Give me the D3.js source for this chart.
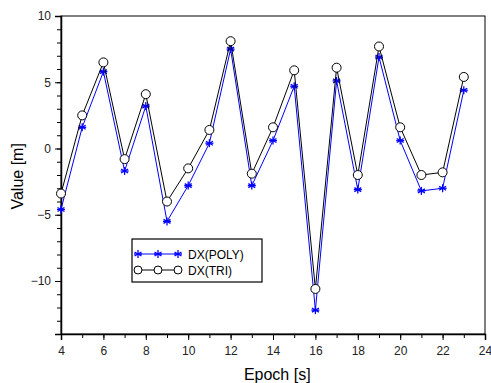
<!DOCTYPE html>
<meta charset="utf-8">
<script src="https://d3js.org/d3.v7.min.js"></script>
<style>
  body { margin: 0; background: #fff; }
  text { font-family: "Liberation Sans", Arial, sans-serif; }
</style>
<div id="chart"></div>
<script>
// epochs and the two series
const epochs = [4, 5, 6, 7, 8, 9, 10, 11, 12, 13, 14, 15, 16, 17, 18, 19, 20, 21, 22, 23];
const dxPoly = [-4.6, 1.6, 5.8, -1.7, 3.2, -5.5, -2.8, 0.4, 7.5, -2.8, 0.6, 4.7, -12.2, 5.1, -3.1, 6.9, 0.6, -3.2, -3.0, 4.4];
const dxTri = [-3.4, 2.5, 6.5, -0.8, 4.1, -4.0, -1.5, 1.4, 8.1, -1.9, 1.6, 5.9, -10.6, 6.1, -2.0, 7.7, 1.6, -2.0, -1.8, 5.4];
const xTicks = [4, 6, 8, 10, 12, 14, 16, 18, 20, 22, 24];
const yTicks = [-10, -5, 0, 5, 10];

const width = 491, height = 383;
const margin = {top: 16, right: 6, bottom: 49, left: 61};
const w = width - margin.left - margin.right,
    h = height - margin.top - margin.bottom;

const svg = d3.select("#chart").append("svg")
    .attr("width", width)
    .attr("height", height);

const g = svg.append("g")
    .attr("transform", `translate(${margin.left},${margin.top})`);

const x = d3.scaleLinear().domain([4, 24]).range([0, w]);
const y = d3.scaleLinear().domain([-14, 10]).range([h, 0]);

// frame
g.append("rect")
    .attr("width", w).attr("height", h)
    .attr("fill", "none").attr("stroke", "#000").attr("stroke-width", 1);

// minor ticks first, then majors with labels
g.append("g")
    .attr("transform", `translate(0,${h})`)
    .call(d3.axisBottom(x).tickValues(d3.range(4, 25, 1)).tickSize(4).tickFormat(""))
    .call(a => a.select(".domain").remove());
g.append("g")
    .attr("transform", `translate(0,${h})`)
    .call(d3.axisBottom(x).tickValues(xTicks).tickSize(6).tickPadding(6))
    .call(a => a.select(".domain").attr("stroke-width", 1.5))
    .call(a => a.selectAll("text").attr("font-size", 12).attr("fill", "#222"));

g.append("g")
    .call(d3.axisLeft(y).tickValues(d3.range(-14, 11, 1)).tickSize(4).tickFormat(""))
    .call(a => a.select(".domain").remove());
g.append("g")
    .call(d3.axisLeft(y).tickValues(yTicks).tickSize(6).tickPadding(4))
    .call(a => a.select(".domain").attr("stroke-width", 1.5))
    .call(a => a.selectAll("text").attr("font-size", 12).attr("fill", "#222"));

// axis titles
svg.append("text")
    .attr("x", margin.left + x(14.2)).attr("y", 380)
    .attr("text-anchor", "middle").attr("font-size", 16)
    .text("Epoch [s]");
svg.append("text")
    .attr("transform", `translate(23,${margin.top + y(-2.1)}) rotate(-90)`)
    .attr("text-anchor", "middle").attr("font-size", 16)
    .text("Value [m]");

const line = d3.line().x((d, i) => x(epochs[i])).y(d => y(d));

function star(sel, cx, cy, r, color) {
    const s = sel.append("g").attr("transform", `translate(${cx},${cy})`)
        .attr("stroke", color).attr("stroke-width", 1.3);
    [0, 60, 120].forEach(a => {
        const t = a * Math.PI / 180;
        s.append("line")
            .attr("x1", -r * Math.sin(t)).attr("y1", -r * Math.cos(t))
            .attr("x2", r * Math.sin(t)).attr("y2", r * Math.cos(t));
    });
    s.append("line").attr("x1", -r).attr("x2", r).attr("y1", 0).attr("y2", 0);
}

// DX(POLY) blue with asterisks
g.append("path").datum(dxPoly)
    .attr("d", line).attr("fill", "none").attr("stroke", "#0000ff").attr("stroke-width", 1);
dxPoly.forEach((v, i) => star(g, x(epochs[i]), y(v), 4, "#0000ff"));

// DX(TRI) black with open circles
g.append("path").datum(dxTri)
    .attr("d", line).attr("fill", "none").attr("stroke", "#000").attr("stroke-width", 1);
g.selectAll(".tri").data(dxTri).join("circle")
    .attr("class", "tri")
    .attr("cx", (d, i) => x(epochs[i])).attr("cy", d => y(d))
    .attr("r", 4.5).attr("fill", "#fff").attr("stroke", "#000").attr("stroke-width", 1);

// legend
const lg = svg.append("g").attr("transform", "translate(132,239)");
lg.append("rect").attr("width", 130).attr("height", 43)
    .attr("fill", "#fff").attr("stroke", "#000").attr("stroke-width", 1.2);
lg.append("line").attr("x1", 6).attr("x2", 46).attr("y1", 15).attr("y2", 15)
    .attr("stroke", "#0000ff");
[6, 26, 46].forEach(px => star(lg, px, 15, 4, "#0000ff"));
lg.append("line").attr("x1", 6).attr("x2", 46).attr("y1", 31).attr("y2", 31)
    .attr("stroke", "#000");
[6, 26, 46].forEach(px => lg.append("circle").attr("cx", px).attr("cy", 31).attr("r", 4)
    .attr("fill", "#fff").attr("stroke", "#000"));
lg.append("text").attr("x", 56).attr("y", 19.5).attr("font-size", 12).text("DX(POLY)");
lg.append("text").attr("x", 56).attr("y", 35.5).attr("font-size", 12).text("DX(TRI)");
</script>
